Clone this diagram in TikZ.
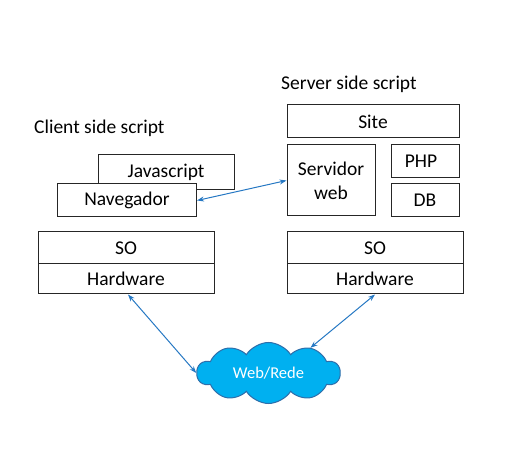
\documentclass[tikz,border=0pt]{standalone}
\usepackage{fontspec}
\setmainfont{Carlito}
\usetikzlibrary{shapes.symbols,arrows.meta}
\definecolor{arrowblue}{RGB}{38,120,195}
\definecolor{cloudfill}{RGB}{0,176,240}
\definecolor{cloudline}{RGB}{46,110,170}
\begin{document}
\begin{tikzpicture}[x=1pt,y=-1pt,
  box/.style={draw=black!85,line width=1pt,fill=white,inner sep=0pt,font=\fontsize{19.5}{24}\selectfont},
  lbl/.style={inner sep=0pt,font=\fontsize{19.5}{24}\selectfont,anchor=west},
  link/.style={draw=arrowblue,line width=1pt,{Stealth[length=7pt,width=5pt]}-{Stealth[length=7pt,width=5pt]}},
  net/.style={cloud,cloud puffs=10,cloud puff arc=115,aspect=2.4,draw=cloudline,line width=1pt,fill=cloudfill,text=white,inner sep=0pt,minimum width=143pt,minimum height=61pt,font=\fontsize{16.5}{20}\selectfont}
]
\useasboundingbox (0,0) rectangle (531,462);
\node[lbl] (client) at (34,128) {Client side script};
\node[lbl] (server) at (281,84) {Server side script};
\node[box,minimum width=136pt,minimum height=35pt] (js) at (166,172.5) {\raisebox{-2pt}{Javascript}};
\node[box,minimum width=139pt,minimum height=33pt] (nav) at (127,200.5) {Navegador};
\node[box,minimum width=176pt,minimum height=32pt] (sol) at (126,248) {SO};
\node[box,minimum width=176pt,minimum height=30pt] (hwl) at (126,279) {Hardware};
\node[box,minimum width=172pt,minimum height=33pt] (site) at (373,121.5) {Site};
\node[box,minimum width=88pt,minimum height=71pt,align=center] (srv) at (331,180.5) {Servidor\\web};
\node[box,minimum width=68pt,minimum height=33pt] (php) at (425,161.5) {\hspace*{-8pt}PHP};
\node[box,minimum width=68pt,minimum height=33pt] (db) at (425,200.5) {DB};
\node[box,minimum width=176pt,minimum height=32pt] (sor) at (375,248) {SO};
\node[box,minimum width=176pt,minimum height=30pt] (hwr) at (375,279) {Hardware};
\node[net] (web) at (268.5,373) {Web/Rede};
\draw[link] (nav.east) -- (srv.west);
\draw[link] ([xshift=2pt]hwl.south) -- (web.west);
\draw[link] (hwr.south) -- (web.31);
\end{tikzpicture}
\end{document}
